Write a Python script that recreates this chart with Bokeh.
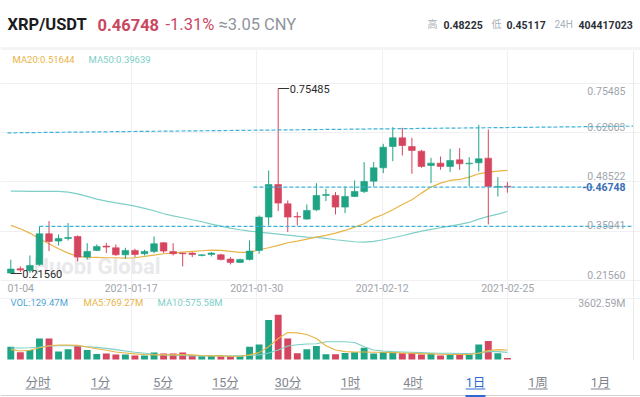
from bokeh.plotting import figure
from bokeh.models import Range1d, FixedTicker, Span
from bokeh.layouts import column
from bokeh.embed import file_html
from bokeh.resources import INLINE
from bokeh.core.properties import value

# ---------------- data ----------------
PAIR = "XRP/USDT"
LAST_PRICE = 0.46748
CHANGE_PCT = -1.31
CNY_PRICE = 3.05
HIGH_24H = 0.48225
LOW_24H = 0.45117
VOL_24H = 404417023

DATE_LABELS = ["01-04", "2021-01-17", "2021-01-30", "2021-02-12", "2021-02-25"]
PRICE_LABELS = [0.75485, 0.62003, 0.48522, 0.35041, 0.21560]

OPEN = [0.2168, 0.2295, 0.2237, 0.2421, 0.3314, 0.3101, 0.3178, 0.3236, 0.2634, 0.2829,
        0.2955, 0.2906, 0.2702, 0.2829, 0.2732, 0.2800, 0.3052, 0.2800, 0.2751, 0.2751,
        0.2683, 0.2712, 0.2702, 0.2576, 0.2479, 0.2567, 0.2829, 0.3800, 0.4751, 0.4188,
        0.3819, 0.3741, 0.4013, 0.4431, 0.4431, 0.4091, 0.4402, 0.4547, 0.4848, 0.5237,
        0.5858, 0.6111, 0.5858, 0.5722, 0.5305, 0.5373, 0.5276, 0.5470, 0.5353, 0.5382,
        0.5518, 0.4674, 0.4700]
HIGH = [0.2557, 0.2363, 0.2683, 0.3528, 0.3683, 0.3294, 0.3625, 0.3265, 0.3042, 0.3003,
        0.3052, 0.3003, 0.2906, 0.2877, 0.2848, 0.3237, 0.3071, 0.3042, 0.2761, 0.2780,
        0.2712, 0.2780, 0.2732, 0.2635, 0.2586, 0.3120, 0.3848, 0.5159, 0.75485, 0.4285,
        0.3945, 0.4169, 0.4790, 0.4625, 0.4528, 0.4693, 0.4868, 0.5402, 0.5402, 0.5936,
        0.6421, 0.6402, 0.6111, 0.5761, 0.5528, 0.5567, 0.5790, 0.5810, 0.5548, 0.6489,
        0.6353, 0.4965, 0.48225]
LOW = [0.2156, 0.2200, 0.2178, 0.2382, 0.2810, 0.2974, 0.3120, 0.2508, 0.2557, 0.2809,
       0.2751, 0.2673, 0.2586, 0.2634, 0.2683, 0.2751, 0.2751, 0.2683, 0.2363, 0.2634,
       0.2654, 0.2654, 0.2537, 0.2421, 0.2460, 0.2537, 0.2732, 0.3557, 0.3975, 0.3363,
       0.3557, 0.3722, 0.3975, 0.4266, 0.3877, 0.3916, 0.4382, 0.4499, 0.4693, 0.5081,
       0.5431, 0.5596, 0.5062, 0.5237, 0.4790, 0.5179, 0.5111, 0.5179, 0.4693, 0.5130,
       0.3586, 0.4402, 0.45117]
CLOSE = [0.2285, 0.2256, 0.2392, 0.3314, 0.3091, 0.3178, 0.3207, 0.2634, 0.2800, 0.2945,
         0.2926, 0.2702, 0.2829, 0.2712, 0.2800, 0.3023, 0.2809, 0.2732, 0.2732, 0.2712,
         0.2702, 0.2751, 0.2566, 0.2479, 0.2567, 0.2809, 0.3800, 0.4751, 0.4208, 0.3800,
         0.3800, 0.3994, 0.4431, 0.4460, 0.4091, 0.4402, 0.4547, 0.4839, 0.5237, 0.5839,
         0.6111, 0.5887, 0.5742, 0.5276, 0.5373, 0.5276, 0.5450, 0.5353, 0.5373, 0.5499,
         0.4693, 0.4693, 0.46748]
MA20 = [0.3557, 0.3460, 0.3334, 0.3169, 0.3023, 0.2877, 0.2751, 0.2654, 0.2635, 0.2625,
        0.2615, 0.2615, 0.2605, 0.2615, 0.2654, 0.2693, 0.2732, 0.2751, 0.2780, 0.2800,
        0.2819, 0.2838, 0.2829, 0.2800, 0.2770, 0.2770, 0.2848, 0.2906, 0.2974, 0.3052,
        0.3101, 0.3159, 0.3217, 0.3266, 0.3334, 0.3411, 0.3508, 0.3606, 0.3771, 0.3877,
        0.4013, 0.4169, 0.4305, 0.4499, 0.4674, 0.4790, 0.4868, 0.4897, 0.4965, 0.5062,
        0.5111, 0.5140, 0.51644]
MA50 = [0.4557, 0.4557, 0.4547, 0.4547, 0.4547, 0.4547, 0.4528, 0.4479, 0.4402, 0.4324,
        0.4266, 0.4217, 0.4169, 0.4120, 0.4052, 0.3984, 0.3897, 0.3838, 0.3780, 0.3722,
        0.3664, 0.3596, 0.3538, 0.3479, 0.3431, 0.3392, 0.3363, 0.3334, 0.3305, 0.3276,
        0.3246, 0.3217, 0.3207, 0.3178, 0.3139, 0.3110, 0.3081, 0.3071, 0.3091, 0.3139,
        0.3198, 0.3256, 0.3324, 0.3392, 0.3441, 0.3489, 0.3538, 0.3586, 0.3644, 0.3741,
        0.3819, 0.3887, 0.39639]
VOLUME = [1032, 580, 767, 1693, 1693, 635, 820, 1085, 767, 450,
          476, 397, 397, 317, 317, 556, 476, 476, 556, 344,
          265, 291, 265, 238, 265, 1032, 1217, 3175, 3602.59, 1693,
          503, 820, 1085, 423, 423, 529, 582, 952, 476, 609,
          609, 503, 529, 397, 476, 317, 370, 370, 397, 1217,
          1482, 503, 129.47]
VOL_MA5 = [794, 688, 741, 952, 1111, 1164, 1164, 1138, 1005, 873,
           741, 609, 529, 450, 397, 370, 370, 370, 397, 370,
           317, 291, 291, 265, 265, 370, 556, 1032, 1693, 2170,
           2143, 2011, 1693, 1111, 767, 635, 609, 609, 582, 582,
           556, 529, 503, 476, 450, 423, 397, 397, 397, 503,
           714, 794, 769.27]
VOL_MA10 = [926, 926, 952, 1005, 1085, 1111, 1111, 1085, 1032, 979,
            900, 794, 688, 582, 503, 423, 370, 344, 317, 291,
            291, 291, 291, 291, 291, 317, 370, 529, 767, 1085,
            1191, 1244, 1270, 1429, 1429, 1429, 1376, 1032, 767, 688,
            635, 609, 582, 556, 529, 503, 503, 476, 476, 529,
            635, 635, 575.58]

# user-drawn guide lines
TOP_LINE = [0.6256, 0.6450]        # sloped resistance (left, right)
MID_LINE_START = 25.4              # ray at last price starting at this candle
LOW_LINE_START = 3                 # ray at candle 3 high

TABS = ["分时", "1分", "5分", "15分", "30分", "1时", "4时", "1日", "1周", "1月"]
ACTIVE_TAB = "1日"

# ---------------- style ----------------
FONT = value("Roboto, 'Noto Sans CJK SC', sans-serif")
GREEN = "#1ea384"
RED = "#d6455f"
MA20_C = "#e9b446"
MA50_C = "#7dcfc7"
DASH_C = "#3eb2d7"
GRID_C = "#f0f0f2"
GRAY_T = "#a0a5ac"
W = 640

N = len(CLOSE)
xs = list(range(N))
hi_p = max(HIGH)
lo_p = min(LOW)
hi_i = HIGH.index(hi_p)
lo_i = LOW.index(lo_p)

# page-pixel <-> data helpers (layout only)
PXI = 9.55                          # pixels per candle
def ix(px):
    return (px - 10.3) / PXI
PX_PER = 185.0 / (hi_p - lo_p)      # max high sits at page y 88, min low at 273
def py(px):
    return hi_p - (px - 88) / PX_PER


def txt(p, x, y, s, size, color, align="left", style="normal"):
    p.text(x=[x], y=[y], text=[s], text_font=FONT, text_font_size=f"{size}px",
           text_color=color, text_align=align, text_baseline="middle",
           text_font_style=style)


def base_fig(h, xr, yr):
    f = figure(width=W, height=h, x_range=xr, y_range=yr, toolbar_location=None,
               output_backend="svg", min_border=0, outline_line_color=None,
               border_fill_color="white", background_fill_color="white")
    f.xaxis.visible = False
    f.yaxis.visible = False
    return f

# ---------------- header ----------------
head = base_fig(50, Range1d(0, 640), Range1d(50, 0))
head.xgrid.visible = False
head.ygrid.visible = False
head.quad(left=[0], right=[640], top=[46.5], bottom=[50], color="#f3f4f6", line_color=None)
txt(head, 7, 24, PAIR, 16.5, "#1c1c1e", style="bold")
txt(head, 97, 24, f"{LAST_PRICE:.5f}", 16.5, "#c9475f", style="bold")
txt(head, 165, 24, f"{CHANGE_PCT:.2f}%", 16.5, "#c9475f")
txt(head, 218, 24, f"≈{CNY_PRICE:.2f} CNY", 16.5, "#8f959d")
txt(head, 427, 24, "高", 10, "#aab0b6")
txt(head, 443, 24, f"{HIGH_24H:.5f}", 10.5, "#2c3038", style="bold")
txt(head, 491, 24, "低", 10, "#aab0b6")
txt(head, 506, 24, f"{LOW_24H:.5f}", 10.5, "#2c3038", style="bold")
txt(head, 554, 24, "24H", 10, "#aab0b6")
txt(head, 578, 24, f"{VOL_24H}", 10.5, "#2c3038", style="bold")

# ---------------- price panel ----------------
x_start, x_end = ix(0), ix(640)
col0 = ix(5.2)
colw = 125.5 / PXI
vgrid = [col0 + k * colw for k in range(1, 5)]
hgrid = [py(82.7 + k * (280 - 82.7) / 4) for k in range(5)]

price = base_fig(247, Range1d(x_start, x_end), Range1d(py(297), py(50)))
price.xgrid.ticker = FixedTicker(ticks=vgrid)
price.ygrid.ticker = FixedTicker(ticks=hgrid)
for g in (price.xgrid, price.ygrid):
    g.grid_line_color = GRID_C
    g.grid_line_width = 1
price.add_layout(Span(location=ix(633), dimension="height", line_color="#e9eaec", line_width=1))

# watermark
price.text(x=[ix(33)], y=[py(266)], text=["Huobi Global"], text_font=FONT, text_font_size="22px",
           text_font_style="bold", text_color="#e9e9ec", text_baseline="middle")

# moving averages
price.line(xs, MA50, line_color=MA50_C, line_width=1.2)
price.line(xs, MA20, line_color=MA20_C, line_width=1.2)

# candles
colors = [GREEN if c >= o else RED for o, c in zip(OPEN, CLOSE)]
price.segment(x0=xs, y0=LOW, x1=xs, y1=HIGH, line_color=colors, line_width=1)
tops = [max(o, c) for o, c in zip(OPEN, CLOSE)]
bots = [min(o, c) for o, c in zip(OPEN, CLOSE)]
price.vbar(x=xs, width=0.7, top=tops, bottom=bots, fill_color=colors, line_color=colors, line_width=0.6)

# guide lines
dash = dict(line_color=DASH_C, line_width=1.2, line_dash="4 2")
price.line([ix(7), ix(633)], TOP_LINE, **dash)
price.line([MID_LINE_START, ix(593)], [LAST_PRICE, LAST_PRICE], **dash)
price.line([LOW_LINE_START, ix(631)], [HIGH[LOW_LINE_START]] * 2, **dash)

# max / min markers
price.segment(x0=[hi_i, lo_i], y0=[hi_p, lo_p], x1=[hi_i + 11 / PXI, lo_i + 11 / PXI],
              y1=[hi_p, lo_p], line_color="#333333", line_width=1)
txt(price, hi_i + 11.5 / PXI, hi_p, f"{hi_p:.5f}", 11, "#2a2a2a")
txt(price, lo_i + 11.5 / PXI, lo_p, f"{lo_p:.5f}", 11, "#2a2a2a")

# right-side price scale
label_py = [py(90)] + [py(82.7 + k * (280 - 82.7) / 4 - 6) for k in range(1, 5)]
for lbl, yy in zip(PRICE_LABELS, label_py):
    txt(price, ix(625), yy, f"{lbl:.5f}", 10.5, GRAY_T, align="right")
txt(price, ix(625), LAST_PRICE, f"-{LAST_PRICE:.5f}", 10.5, "#3b6db6", align="right", style="bold")

# MA legend
txt(price, ix(12), py(59), f"MA20:{MA20[-1]:.5f}", 9.5, MA20_C)
txt(price, ix(88), py(59), f"MA50:{MA50[-1]:.5f}", 9.5, MA50_C)

# date labels
txt(price, ix(7), py(287), DATE_LABELS[0], 10.5, GRAY_T)
price.text(x=vgrid, y=[py(287)] * 4, text=DATE_LABELS[1:], text_font=FONT, text_font_size="10.5px",
           text_color=GRAY_T, text_align="center", text_baseline="middle")

# ---------------- volume panel ----------------
VPX = (359 - 314.3) / max(VOLUME)
def vy(px):
    return (359 - px) / VPX

vol = base_fig(63, Range1d(x_start, x_end), Range1d(vy(360), vy(297)))
vol.xgrid.ticker = FixedTicker(ticks=vgrid)
vol.ygrid.ticker = FixedTicker(ticks=[vy(297.5)])
for g in (vol.xgrid, vol.ygrid):
    g.grid_line_color = GRID_C
    g.grid_line_width = 1
vol.add_layout(Span(location=ix(633), dimension="height", line_color="#e9eaec", line_width=1))
vol.vbar(x=xs, width=0.72, top=VOLUME, bottom=0, fill_color=colors, line_color=None)
vol.line(xs, VOL_MA10, line_color=MA50_C, line_width=1.1)
vol.line(xs, VOL_MA5, line_color=MA20_C, line_width=1.1)
txt(vol, ix(10), vy(302), f"VOL:{VOLUME[-1]:.2f}M", 9.5, "#4ea6d6")
txt(vol, ix(83), vy(302), f"MA5:{VOL_MA5[-1]:.2f}M", 9.5, MA20_C)
txt(vol, ix(157), vy(302), f"MA10:{VOL_MA10[-1]:.2f}M", 9.5, MA50_C)
txt(vol, ix(625), vy(303), f"{max(VOLUME):.2f}M", 10.5, GRAY_T, align="right")

# ---------------- tabs ----------------
tabs = base_fig(37, Range1d(0, 640), Range1d(397, 360))
tabs.xgrid.visible = False
tabs.ygrid.visible = False
tab_x = [37.5 + 62.5 * k for k in range(len(TABS))]
tab_col = ["#2e6bd1" if t == ACTIVE_TAB else "#7f858d" for t in TABS]
tabs.text(x=tab_x, y=[381.5] * len(TABS), text=TABS, text_font=FONT, text_font_size="12.5px",
          text_color=tab_col, text_align="center", text_baseline="middle")
uw = [sum(12.5 if ord(c) > 255 else 7 for c in t) for t in TABS]
tabs.segment(x0=[x - w / 2 for x, w in zip(tab_x, uw)], x1=[x + w / 2 for x, w in zip(tab_x, uw)],
             y0=[388.5] * len(TABS), y1=[388.5] * len(TABS), line_color=tab_col, line_width=1)
tabs.quad(left=[0], right=[640], top=[394.5], bottom=[395.5], color="#cfd1d4", line_color=None)
ai = TABS.index(ACTIVE_TAB)
tabs.quad(left=[tab_x[ai] - 10], right=[tab_x[ai] + 10], top=[394.5], bottom=[397],
          color="#2e6bd1", line_color=None)

layout = column(head, price, vol, tabs, spacing=0)
open("out.html", "w").write(file_html(layout, INLINE))
